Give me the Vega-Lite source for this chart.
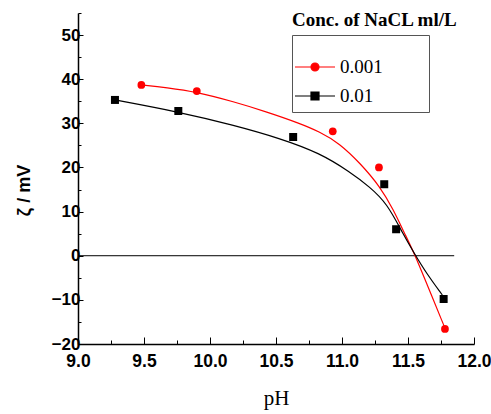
{
  "$schema": "https://vega.github.io/schema/vega-lite/v6.json",
  "width": 396,
  "height": 331,
  "autosize": {"type": "none"},
  "padding": {"left": 78, "top": 13, "right": 17, "bottom": 70},
  "background": "white",
  "title": {"text": "Conc. of NaCL ml/L", "anchor": "start", "frame": "group", "dx": 214, "dy": 32, "offset": 0, "baseline": "alphabetic", "font": "Liberation Serif", "fontSize": 19, "fontWeight": "bold", "color": "black"},
  "datasets": {
    "points": [
      {"pH": 9.48, "zeta": 38.7, "conc": "0.001"},
      {"pH": 9.90, "zeta": 37.3, "conc": "0.001"},
      {"pH": 10.93, "zeta": 28.2, "conc": "0.001"},
      {"pH": 11.28, "zeta": 20.0, "conc": "0.001"},
      {"pH": 11.78, "zeta": -16.6, "conc": "0.001"},
      {"pH": 9.28, "zeta": 35.3, "conc": "0.01"},
      {"pH": 9.76, "zeta": 32.8, "conc": "0.01"},
      {"pH": 10.63, "zeta": 26.9, "conc": "0.01"},
      {"pH": 11.32, "zeta": 16.2, "conc": "0.01"},
      {"pH": 11.41, "zeta": 6.0, "conc": "0.01"},
      {"pH": 11.77, "zeta": -9.8, "conc": "0.01"}
    ],
    "fit": [
      {"pH": 9.48, "zeta": 38.7, "conc": "0.001"},
      {"pH": 9.67, "zeta": 38.1, "conc": "0.001"},
      {"pH": 9.90, "zeta": 37.1, "conc": "0.001"},
      {"pH": 10.18, "zeta": 34.9, "conc": "0.001"},
      {"pH": 10.43, "zeta": 32.6, "conc": "0.001"},
      {"pH": 10.68, "zeta": 30.0, "conc": "0.001"},
      {"pH": 10.83, "zeta": 28.1, "conc": "0.001"},
      {"pH": 10.98, "zeta": 25.5, "conc": "0.001"},
      {"pH": 11.14, "zeta": 20.9, "conc": "0.001"},
      {"pH": 11.29, "zeta": 15.6, "conc": "0.001"},
      {"pH": 11.39, "zeta": 10.4, "conc": "0.001"},
      {"pH": 11.47, "zeta": 5.3, "conc": "0.001"},
      {"pH": 11.55, "zeta": 0.4, "conc": "0.001"},
      {"pH": 11.64, "zeta": -6.2, "conc": "0.001"},
      {"pH": 11.78, "zeta": -16.4, "conc": "0.001"},
      {"pH": 9.28, "zeta": 35.3, "conc": "0.01"},
      {"pH": 9.76, "zeta": 32.6, "conc": "0.01"},
      {"pH": 10.18, "zeta": 29.6, "conc": "0.01"},
      {"pH": 10.53, "zeta": 26.6, "conc": "0.01"},
      {"pH": 10.83, "zeta": 23.3, "conc": "0.01"},
      {"pH": 11.06, "zeta": 19.0, "conc": "0.01"},
      {"pH": 11.21, "zeta": 15.6, "conc": "0.01"},
      {"pH": 11.34, "zeta": 11.9, "conc": "0.01"},
      {"pH": 11.46, "zeta": 5.1, "conc": "0.01"},
      {"pH": 11.55, "zeta": 0.4, "conc": "0.01"},
      {"pH": 11.64, "zeta": -4.0, "conc": "0.01"},
      {"pH": 11.76, "zeta": -8.9, "conc": "0.01"}
    ],
    "zero": [{"pH": 9.0, "pH2": 11.85, "zeta": 0}]
  },
  "config": {
    "view": {"stroke": null},
    "axis": {"grid": false, "domainColor": "black", "domainWidth": 1.5, "tickColor": "black", "tickWidth": 1, "labelColor": "black", "titleColor": "black", "labelFlush": false, "labelOverlap": false},
    "legend": {"orient": "none", "legendX": 214, "legendY": 22, "symbolSize": 400, "symbolStrokeWidth": 1.2, "padding": 6, "rowPadding": 8, "labelOffset": 20, "labelFont": "Liberation Serif", "labelFontSize": 19, "labelColor": "black", "strokeColor": "#555555", "titleFont": "Liberation Serif", "titleFontWeight": "normal", "titleFontSize": 15, "titleColor": "white", "titlePadding": 0, "titleLimit": 400}
  },
  "resolve": {"axis": {"x": "independent", "y": "independent"}},
  "layer": [
    {
      "data": {"name": "zero"},
      "mark": {"type": "rule", "color": "black", "strokeWidth": 1},
      "encoding": {
        "x": {"field": "pH", "type": "quantitative", "scale": {"domain": [9, 12], "nice": false, "zero": false},
          "axis": {"orient": "bottom", "values": [9, 9.5, 10, 10.5, 11, 11.5, 12], "format": ".1f", "tickSize": -7, "labelFont": "Liberation Sans", "labelFontWeight": "bold", "labelFontSize": 17.5, "labelPadding": 15, "title": "pH", "titleFont": "Liberation Serif", "titleFontWeight": "normal", "titleFontSize": 21, "titlePadding": 18}},
        "x2": {"field": "pH2"},
        "y": {"field": "zeta", "type": "quantitative", "scale": {"domain": [-20, 55], "nice": false, "zero": false},
          "axis": {"orient": "left", "values": [-20, -10, 0, 10, 20, 30, 40, 50], "tickSize": -5, "labelFont": "Liberation Sans", "labelFontWeight": "bold", "labelFontSize": 17, "labelPadding": 3, "title": "ζ / mV", "titleFont": "Liberation Sans", "titleFontWeight": "bold", "titleFontSize": 18, "titlePadding": 18, "titleY": 177}}
      }
    },
    {
      "data": {"name": "fit"},
      "transform": [{"filter": "datum.conc == '0.001'"}],
      "mark": {"type": "line", "interpolate": "basis", "strokeWidth": 1.2, "color": "#ff0000"},
      "encoding": {
        "x": {"field": "pH", "type": "quantitative", "scale": {"domain": [9, 12], "nice": false, "zero": false},
          "axis": {"orient": "bottom", "values": [9.25, 9.75, 10.25, 10.75, 11.25, 11.75], "tickSize": -4, "labels": false, "domain": false, "title": null}},
        "y": {"field": "zeta", "type": "quantitative", "scale": {"domain": [-20, 55], "nice": false, "zero": false},
          "axis": {"orient": "left", "values": [-15, -5, 5, 15, 25, 35, 45, 55], "tickSize": -3, "labels": false, "domain": false, "title": null}}
      }
    },
    {
      "data": {"name": "fit"},
      "transform": [{"filter": "datum.conc == '0.01'"}],
      "mark": {"type": "line", "interpolate": "basis", "strokeWidth": 1.2, "color": "#000000"},
      "encoding": {
        "x": {"field": "pH", "type": "quantitative", "scale": {"domain": [9, 12], "nice": false, "zero": false}, "axis": null},
        "y": {"field": "zeta", "type": "quantitative", "scale": {"domain": [-20, 55], "nice": false, "zero": false}, "axis": null}
      }
    },
    {
      "data": {"name": "points"},
      "transform": [{"filter": "datum.conc == '0.001'"}],
      "mark": {"type": "point", "shape": "circle", "filled": true, "opacity": 1, "size": 60, "color": "#ff0000"},
      "encoding": {
        "x": {"field": "pH", "type": "quantitative", "scale": {"domain": [9, 12], "nice": false, "zero": false}, "axis": null},
        "y": {"field": "zeta", "type": "quantitative", "scale": {"domain": [-20, 55], "nice": false, "zero": false}, "axis": null}
      }
    },
    {
      "data": {"name": "points"},
      "transform": [{"filter": "datum.conc == '0.01'"}],
      "mark": {"type": "point", "shape": "square", "filled": true, "opacity": 1, "size": 64, "color": "#000000"},
      "encoding": {
        "x": {"field": "pH", "type": "quantitative", "scale": {"domain": [9, 12], "nice": false, "zero": false}, "axis": null},
        "y": {"field": "zeta", "type": "quantitative", "scale": {"domain": [-20, 55], "nice": false, "zero": false}, "axis": null}
      }
    },
    {
      "data": {"name": "points"},
      "transform": [{"filter": "false"}],
      "mark": {"type": "point", "filled": true, "opacity": 1, "strokeWidth": 1.2},
      "encoding": {
        "x": {"field": "pH", "type": "quantitative", "scale": {"domain": [9, 12], "nice": false, "zero": false}, "axis": null},
        "y": {"field": "zeta", "type": "quantitative", "scale": {"domain": [-20, 55], "nice": false, "zero": false}, "axis": null},
        "color": {"field": "conc", "type": "nominal", "title": "Conc. of NaCL ml/L", "scale": {"domain": ["0.001", "0.01"], "range": ["#ff0000", "#000000"]}},
        "stroke": {"field": "conc", "type": "nominal", "title": "Conc. of NaCL ml/L", "scale": {"domain": ["0.001", "0.01"], "range": ["#ff0000", "#000000"]}},
        "shape": {"field": "conc", "type": "nominal", "title": "Conc. of NaCL ml/L", "scale": {"domain": ["0.001", "0.01"], "range": ["M-1.4,0H2.6M0.2,0A0.4,0.4,0,1,1,1,0A0.4,0.4,0,1,1,0.2,0Z", "M-1.4,0H2.6M0.2,-0.4H1V0.4H0.2Z"]}}
      }
    }
  ]
}
